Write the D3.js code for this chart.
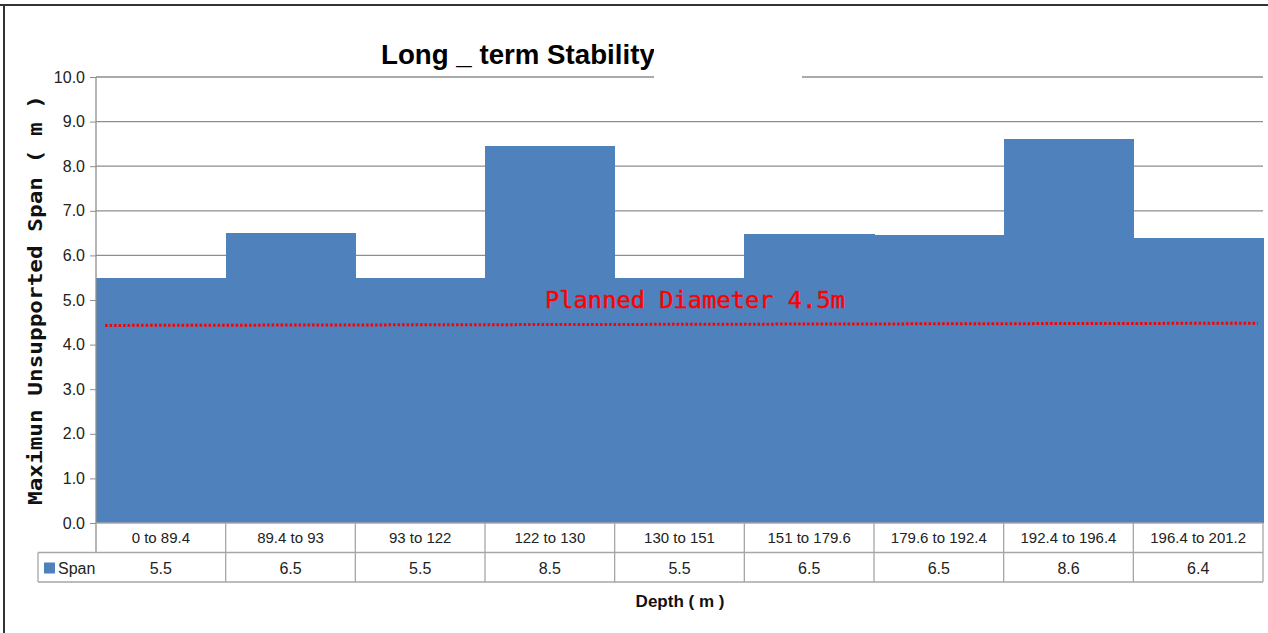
<!DOCTYPE html>
<html>
<head>
<meta charset="utf-8">
<script src="https://cdn.jsdelivr.net/npm/d3@7"></script>
<style>
body { margin: 0; background: #fff; }
svg { display: block; }
</style>
</head>
<body>
<div id="chart"></div>
<script>
// depth ranges and span values
var depths = ["0 to 89.4", "89.4 to 93", "93 to 122", "122 to 130", "130 to 151", "151 to 179.6", "179.6 to 192.4", "192.4 to 196.4", "196.4 to 201.2"];
var spans = [5.5, 6.5, 5.5, 8.45, 5.5, 6.48, 6.46, 8.6, 6.4];
var spanLabels = ["5.5", "6.5", "5.5", "8.5", "5.5", "6.5", "6.5", "8.6", "6.4"];
var yTicks = [0, 1, 2, 3, 4, 5, 6, 7, 8, 9, 10];
// planned diameter line (drawn slightly off level in the original)
var plannedPos = [0.07, 8.96];
var plannedVal = [4.43, 4.48];

var w = 1268;
var h = 633;
// note: "top" is taken by window.top, so use other names
var plotLeft = 96, plotRight = 1263, plotTop = 77, plotBottom = 523;
var rowH = 29.5;

var svg = d3.select("#chart").append("svg").attr("width", w).attr("height", h);

var xScale = d3.scaleBand().domain(depths).range([plotLeft, plotRight]).padding(0);
var xLin = d3.scaleLinear().domain([0, depths.length]).range([plotLeft, plotRight]);
var yScale = d3.scaleLinear().domain([0, 10]).range([plotBottom, plotTop]);

// outer frame (top and left edges only are visible)
svg.append("line").attr("x1", 0).attr("x2", w).attr("y1", 5).attr("y2", 5)
    .style("stroke", "#333").style("stroke-width", 2);
svg.append("line").attr("x1", 4).attr("x2", 4).attr("y1", 5).attr("y2", h)
    .style("stroke", "#333").style("stroke-width", 2);

// gridlines
svg.append("g").selectAll("line").data(yTicks.slice(1)).enter().append("line")
    .attr("x1", plotLeft).attr("x2", plotRight)
    .attr("y1", function(d) { return yScale(d); })
    .attr("y2", function(d) { return yScale(d); })
    .style("stroke", "#8e8e8e").style("stroke-width", 1.3);

// bars
svg.append("g").selectAll("rect").data(spans).enter().append("rect")
    .attr("x", function(d, i) { return xScale(depths[i]); })
    .attr("width", xScale.bandwidth() + 0.6)
    .attr("y", function(d) { return yScale(d); })
    .attr("height", function(d) { return yScale(0) - yScale(d); })
    .attr("shape-rendering", "crispEdges")
    .style("fill", "#4f81bd");

// y axis
var yAxis = d3.axisLeft(yScale).tickValues(yTicks).tickFormat(d3.format(".1f")).tickSize(6).tickPadding(5);
var yg = svg.append("g").attr("transform", "translate(" + plotLeft + ",0)").call(yAxis);
yg.select(".domain").remove();
yg.selectAll(".tick line").style("stroke", "#8e8e8e");
yg.selectAll("text").style("font-family", "Liberation Sans, Arial, sans-serif").style("font-size", "16px").style("fill", "#222");
svg.append("line").attr("x1", plotLeft).attr("x2", plotLeft).attr("y1", plotTop).attr("y2", plotBottom + rowH)
    .style("stroke", "#8e8e8e").style("stroke-width", 1.3);

// planned diameter line
var planned = d3.line()
    .x(function(d, i) { return xLin(plannedPos[i]); })
    .y(function(d) { return yScale(d); });
svg.append("path").datum(plannedVal).attr("d", planned)
    .style("fill", "none").style("stroke", "#ff0000").style("stroke-width", 3)
    .style("stroke-dasharray", "2.5,2");
svg.append("text").attr("x", 545).attr("y", 308).attr("textLength", 300).attr("lengthAdjust", "spacingAndGlyphs")
    .text("Planned Diameter 4.5m")
    .style("font-family", "DejaVu Sans Mono, monospace").style("font-size", "23px").style("fill", "#ff0000")
    .style("stroke", "#ff0000").style("stroke-width", 0.4);

// data table under the plot
var tableLine = "#a6a6a6";
svg.append("line").attr("x1", plotLeft).attr("x2", plotRight).attr("y1", plotBottom).attr("y2", plotBottom)
    .style("stroke", tableLine).style("stroke-width", 1.3);
svg.append("line").attr("x1", 38).attr("x2", plotRight).attr("y1", plotBottom + rowH).attr("y2", plotBottom + rowH)
    .style("stroke", tableLine).style("stroke-width", 1.3);
svg.append("line").attr("x1", 38).attr("x2", plotRight).attr("y1", plotBottom + 2 * rowH).attr("y2", plotBottom + 2 * rowH)
    .style("stroke", tableLine).style("stroke-width", 1.3);
svg.append("line").attr("x1", 38).attr("x2", 38).attr("y1", plotBottom + rowH).attr("y2", plotBottom + 2 * rowH)
    .style("stroke", tableLine).style("stroke-width", 1.3);
svg.append("g").selectAll("line").data(depths).enter().append("line")
    .attr("x1", function(d) { return xScale(d) + xScale.bandwidth(); })
    .attr("x2", function(d) { return xScale(d) + xScale.bandwidth(); })
    .attr("y1", plotBottom).attr("y2", plotBottom + 2 * rowH)
    .style("stroke", tableLine).style("stroke-width", 1.3);

svg.append("g").selectAll("text").data(depths).enter().append("text")
    .attr("x", function(d) { return xScale(d) + xScale.bandwidth() / 2; })
    .attr("y", plotBottom + 20)
    .attr("text-anchor", "middle")
    .text(function(d) { return d; })
    .style("font-family", "Liberation Sans, Arial, sans-serif").style("font-size", "15px").style("fill", "#222");
svg.append("g").selectAll("text").data(spanLabels).enter().append("text")
    .attr("x", function(d, i) { return xScale(depths[i]) + xScale.bandwidth() / 2; })
    .attr("y", plotBottom + rowH + 21)
    .attr("text-anchor", "middle")
    .text(function(d) { return d; })
    .style("font-family", "Liberation Sans, Arial, sans-serif").style("font-size", "16px").style("fill", "#222");

// legend key in the table
svg.append("rect").attr("x", 44).attr("y", plotBottom + rowH + 10).attr("width", 11).attr("height", 11).style("fill", "#4f81bd");
svg.append("text").attr("x", 58).attr("y", plotBottom + rowH + 21).text("Span")
    .style("font-family", "Liberation Sans, Arial, sans-serif").style("font-size", "16px").style("fill", "#222");

// axis titles
svg.append("text").attr("x", 680).attr("y", 607).attr("text-anchor", "middle").text("Depth ( m )")
    .style("font-family", "Liberation Sans, Arial, sans-serif").style("font-size", "17px").style("font-weight", "bold").style("fill", "#111");
svg.append("text").attr("transform", "translate(42,300) rotate(-90)").attr("text-anchor", "middle")
    .attr("textLength", 410).attr("lengthAdjust", "spacingAndGlyphs")
    .text("Maximun Unsupported Span ( m )")
    .style("font-family", "DejaVu Sans Mono, monospace").style("font-size", "20px").style("font-weight", "bold").style("fill", "#111");

// title, clipped by a white box in the original
svg.append("text").attr("x", 381).attr("y", 64).attr("textLength", 283).attr("lengthAdjust", "spacingAndGlyphs")
    .text("Long _ term Stability(")
    .style("font-family", "Liberation Sans, Arial, sans-serif").style("font-size", "28px").style("font-weight", "bold").style("fill", "#000");
svg.append("rect").attr("x", 654).attr("y", 36).attr("width", 148).attr("height", 44).style("fill", "#fff");
</script>
</body>
</html>
